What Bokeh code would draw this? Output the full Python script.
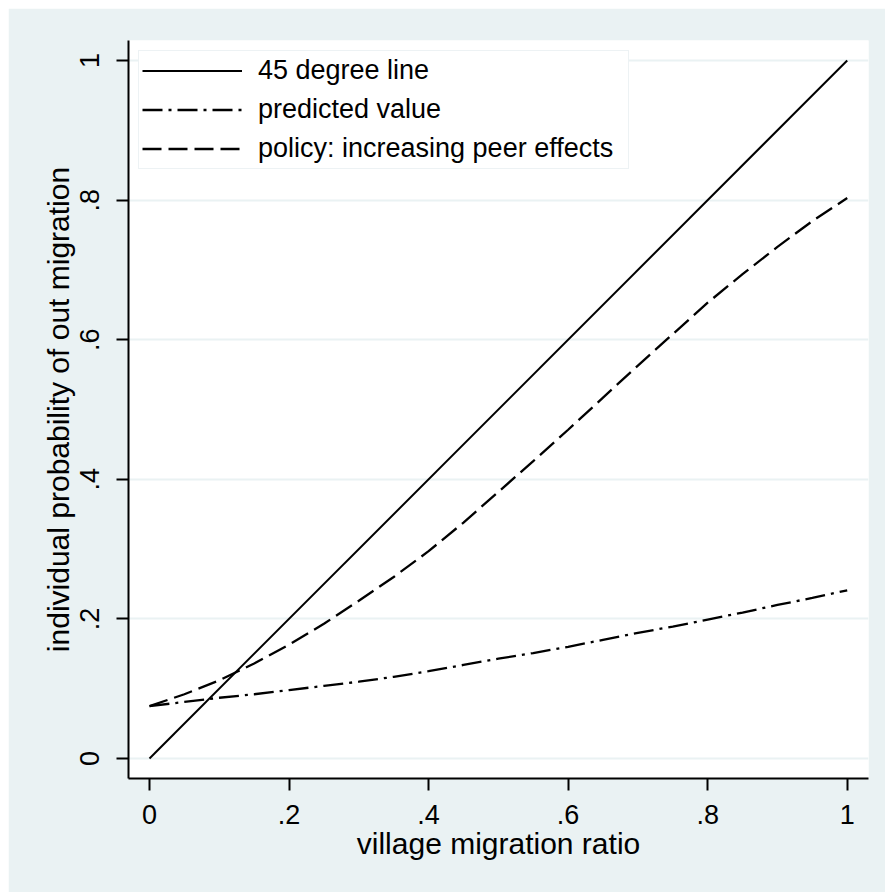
from bokeh.plotting import figure
from bokeh.models import FixedTicker, Legend, LegendItem, Range1d
from bokeh.embed import file_html
from bokeh.resources import INLINE

# ---- data ----
ratio = [0, 0.05, 0.1, 0.15, 0.2, 0.25, 0.3, 0.35, 0.4, 0.45, 0.5,
         0.55, 0.6, 0.65, 0.7, 0.75, 0.8, 0.85, 0.9, 0.95, 1.0]
predicted_value = [0.075, 0.081, 0.087, 0.092, 0.098, 0.104, 0.110, 0.117, 0.125, 0.134, 0.143,
                   0.151, 0.160, 0.170, 0.180, 0.189, 0.199, 0.209, 0.220, 0.230, 0.241]
policy_peer = [0.075, 0.092, 0.112, 0.136, 0.163, 0.193, 0.226, 0.260, 0.297, 0.338, 0.382,
               0.426, 0.471, 0.517, 0.563, 0.608, 0.653, 0.694, 0.733, 0.770, 0.803]
diag_x = [0, 1]
diag_y = [0, 1]

x_ticks = [0, 0.2, 0.4, 0.6, 0.8, 1]
x_tick_labels = ["0", ".2", ".4", ".6", ".8", "1"]
y_ticks = [0, 0.2, 0.4, 0.6, 0.8, 1]
y_tick_labels = ["0", ".2", ".4", ".6", ".8", "1"]

series_names = ["45 degree line", "predicted value", "policy: increasing peer effects"]
x_title = "village migration ratio"
y_title = "individual probability of out migration"

BG = "#EAF2F3"
FONT = "Liberation Sans"

p = figure(width=877, height=884, output_backend="svg", toolbar_location=None,
           x_range=Range1d(-0.0301, 1.0305), y_range=Range1d(-0.0287, 1.0287),
           min_border_left=120, min_border_right=17, min_border_top=32, min_border_bottom=114)
p.margin = (8, 0, 0, 8)
p.background_fill_color = "white"
p.border_fill_color = BG
p.outline_line_color = None

r1 = p.line(diag_x, diag_y, line_color="black", line_width=2)
r2 = p.line(ratio, predicted_value, line_color="black", line_width=2.3, line_dash="20 6 3 6")
r3 = p.line(ratio, policy_peer, line_color="black", line_width=2.3, line_dash="19 7")

# axes
for ax in (p.xaxis[0], p.yaxis[0]):
    ax.axis_line_color = "black"
    ax.axis_line_width = 2
    ax.major_tick_line_color = "black"
    ax.major_tick_line_width = 2
    ax.major_tick_out = 12
    ax.major_tick_in = 0
    ax.minor_tick_out = 0
    ax.minor_tick_in = 0
    ax.major_label_text_font = FONT
    ax.major_label_text_font_size = "27px"
    ax.major_label_text_color = "black"
    ax.axis_label_text_font = FONT
    ax.axis_label_text_font_size = "30px"
    ax.axis_label_text_font_style = "normal"
    ax.axis_label_text_color = "black"

p.xaxis.ticker = FixedTicker(ticks=x_ticks)
p.xaxis.major_label_overrides = {t: l for t, l in zip(x_ticks, x_tick_labels)}
p.xaxis.axis_label = x_title
p.xaxis.major_label_standoff = 14
p.xaxis.axis_label_standoff = 0

p.yaxis.ticker = FixedTicker(ticks=y_ticks)
p.yaxis.major_label_overrides = {t: l for t, l in zip(y_ticks, y_tick_labels)}
p.yaxis.major_label_orientation = "vertical"
p.yaxis.axis_label = y_title
p.yaxis.major_label_standoff = 17
p.yaxis.axis_label_standoff = 3

p.xgrid.visible = False
p.ygrid.ticker = FixedTicker(ticks=y_ticks)
p.ygrid.grid_line_color = BG
p.ygrid.grid_line_width = 2

legend = Legend(items=[LegendItem(label=series_names[0], renderers=[r1]),
                       LegendItem(label=series_names[1], renderers=[r2]),
                       LegendItem(label=series_names[2], renderers=[r3])],
                location="top_left")
legend.margin = 10
legend.padding = 3
legend.spacing = 6
legend.glyph_width = 100
legend.glyph_height = 33
legend.label_height = 33
legend.label_width = 367
legend.label_standoff = 16
legend.label_text_font = FONT
legend.label_text_font_size = "27px"
legend.label_text_color = "black"
legend.border_line_color = "#DCE6E9"
legend.border_line_width = 1.5
legend.background_fill_color = "white"
legend.background_fill_alpha = 1.0
p.add_layout(legend, "center")

open("out.html", "w").write(file_html(p, INLINE))
